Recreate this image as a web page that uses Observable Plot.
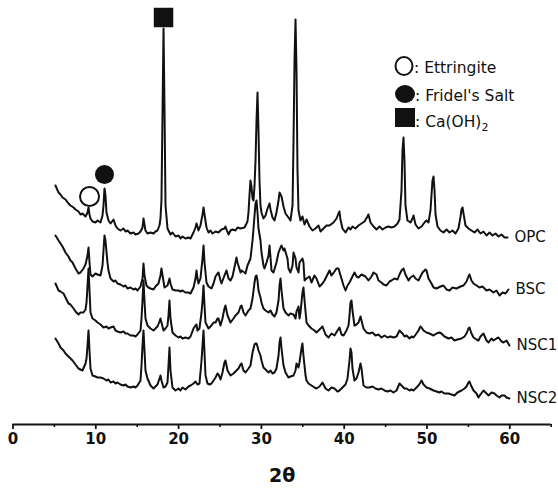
<!DOCTYPE html>
<html>
<head>
<meta charset="utf-8">
<script src="https://cdn.jsdelivr.net/npm/d3@7"></script>
<script src="https://cdn.jsdelivr.net/npm/@observablehq/plot@0.6"></script>
<style>
  html, body { margin: 0; padding: 0; background: #fff; }
  #chart { width: 558px; height: 488px; overflow: hidden; }
</style>
</head>
<body>
<div id="chart"></div>
<script>
// ---- Data: [2θ (deg), intensity (a.u., stacked)] ----
const seriesNames = ["OPC", "BSC", "NSC1", "NSC2"];

const opc = [[5.13,239],[5.50,232],[5.74,230],[5.98,227],[6.34,225],[6.70,221],[6.94,219],[7.31,217],[7.55,215],[7.91,213],[8.15,210],[8.39,211],[8.76,208],[9.00,212],[9.12,217],[9.24,210],[9.36,206],[9.60,203],[9.96,202],[10.21,204],[10.57,202],[10.81,209],[10.93,219],[11.05,236],[11.17,229],[11.29,212],[11.53,204],[11.78,201],[12.14,205],[12.38,199],[12.62,196],[12.98,194],[13.35,196],[13.59,193],[13.83,194],[14.19,191],[14.55,192],[14.79,190],[15.16,191],[15.40,193],[15.64,197],[15.76,206],[15.88,200],[16.00,194],[16.24,191],[16.61,192],[16.97,191],[17.21,193],[17.45,194],[17.69,199],[17.81,206],[17.93,224],[18.06,314],[18.18,396],[18.30,314],[18.42,219],[18.66,196],[19.02,190],[19.26,192],[19.63,188],[19.99,189],[20.23,186],[20.47,188],[20.83,186],[21.20,187],[21.44,186],[21.80,192],[22.04,197],[22.16,201],[22.28,198],[22.40,194],[22.64,199],[22.89,210],[23.01,217],[23.13,210],[23.37,197],[23.61,192],[23.85,194],[24.09,191],[24.46,193],[24.82,192],[25.18,195],[25.54,196],[25.66,198],[25.79,195],[26.03,190],[26.27,194],[26.51,195],[26.87,194],[27.11,197],[27.48,196],[27.96,197],[28.08,199],[28.32,203],[28.44,212],[28.56,229],[28.68,244],[28.80,238],[28.93,226],[29.05,224],[29.17,239],[29.29,264],[29.41,304],[29.53,332],[29.65,294],[29.77,244],[29.89,219],[30.01,212],[30.25,206],[30.50,209],[30.74,216],[30.98,221],[31.10,215],[31.34,207],[31.58,204],[31.82,212],[32.07,224],[32.19,232],[32.43,228],[32.67,218],[32.91,211],[33.27,207],[33.51,204],[33.76,219],[33.88,284],[34.00,364],[34.12,405],[34.24,354],[34.36,254],[34.48,214],[34.72,204],[34.96,208],[35.21,200],[35.45,205],[35.81,198],[36.17,194],[36.53,196],[36.90,199],[37.14,193],[37.50,196],[37.86,199],[38.22,199],[38.71,202],[39.07,206],[39.31,211],[39.43,213],[39.55,205],[39.79,196],[40.16,192],[40.52,197],[40.76,195],[41.00,198],[41.36,196],[41.73,199],[42.09,201],[42.45,203],[42.81,208],[42.93,210],[43.18,202],[43.54,198],[43.90,195],[44.26,198],[44.63,195],[44.99,197],[45.35,198],[45.71,197],[46.07,198],[46.44,201],[46.68,205],[46.92,234],[47.04,274],[47.16,287],[47.28,264],[47.40,219],[47.64,204],[48.01,202],[48.25,206],[48.37,209],[48.61,200],[48.97,196],[49.34,198],[49.70,202],[49.94,204],[50.18,202],[50.42,214],[50.54,229],[50.66,244],[50.79,248],[50.91,234],[51.03,210],[51.27,198],[51.63,194],[51.99,192],[52.36,195],[52.72,192],[53.08,194],[53.44,191],[53.80,196],[54.05,208],[54.17,215],[54.29,217],[54.41,211],[54.65,199],[55.01,196],[55.37,194],[55.74,192],[56.10,195],[56.46,191],[56.82,193],[57.19,189],[57.55,192],[57.91,189],[58.27,191],[58.64,188],[59.00,190],[59.36,187],[59.72,187]];

const bsc = [[5.13,189],[5.50,184],[5.74,181],[5.98,178],[6.34,172],[6.70,168],[6.94,164],[7.19,162],[7.55,156],[7.91,151],[8.15,152],[8.51,156],[8.76,160],[9.00,169],[9.12,177],[9.24,162],[9.36,150],[9.60,148],[9.96,151],[10.21,150],[10.57,149],[10.81,159],[10.93,174],[11.05,189],[11.17,184],[11.41,162],[11.53,154],[11.78,146],[12.14,143],[12.38,144],[12.62,141],[12.98,140],[13.35,138],[13.59,139],[13.83,136],[14.19,137],[14.55,135],[14.79,136],[15.04,134],[15.40,138],[15.64,146],[15.76,161],[15.88,149],[16.12,139],[16.36,137],[16.61,136],[16.97,135],[17.21,138],[17.57,141],[17.81,149],[17.93,156],[18.06,149],[18.30,137],[18.66,139],[18.90,146],[19.02,141],[19.26,135],[19.63,134],[19.99,134],[20.23,133],[20.47,134],[20.83,132],[21.20,132],[21.44,131],[21.80,137],[22.04,146],[22.16,154],[22.28,146],[22.40,141],[22.64,146],[22.89,166],[23.01,179],[23.13,162],[23.37,142],[23.61,138],[23.97,136],[24.22,141],[24.46,148],[24.70,151],[24.82,152],[25.06,144],[25.18,141],[25.54,149],[25.79,154],[26.03,146],[26.27,144],[26.51,148],[26.87,162],[26.99,167],[27.11,162],[27.48,152],[27.60,154],[27.96,152],[28.08,151],[28.32,159],[28.68,166],[28.93,184],[29.05,196],[29.17,209],[29.29,221],[29.41,224],[29.53,212],[29.65,196],[29.89,184],[30.01,172],[30.25,159],[30.37,156],[30.62,162],[30.86,169],[30.98,179],[31.10,167],[31.22,154],[31.46,152],[31.82,162],[32.07,172],[32.31,177],[32.43,179],[32.67,174],[32.79,176],[33.15,166],[33.27,156],[33.51,152],[33.76,159],[33.88,172],[34.12,166],[34.24,157],[34.48,152],[34.60,162],[34.96,166],[35.08,162],[35.21,144],[35.45,146],[35.81,148],[36.05,142],[36.41,149],[36.65,146],[37.02,138],[37.38,141],[37.62,144],[37.86,148],[38.22,154],[38.47,149],[38.83,153],[39.07,156],[39.31,156],[39.67,146],[39.92,139],[40.16,134],[40.40,139],[40.64,142],[41.00,148],[41.24,152],[41.49,148],[41.73,147],[42.09,150],[42.33,149],[42.57,148],[42.93,144],[43.30,148],[43.54,152],[43.90,150],[44.14,144],[44.50,142],[44.75,140],[45.11,139],[45.47,143],[45.71,144],[46.07,146],[46.44,145],[46.68,150],[46.92,154],[47.16,156],[47.40,150],[47.77,144],[48.01,147],[48.37,149],[48.61,146],[48.97,144],[49.21,148],[49.46,152],[49.82,155],[49.94,154],[50.18,146],[50.54,141],[50.79,137],[51.15,136],[51.63,138],[51.99,139],[52.36,135],[52.72,134],[53.08,137],[53.56,136],[54.05,138],[54.41,139],[54.77,143],[55.01,148],[55.13,150],[55.37,144],[55.62,141],[55.98,139],[56.34,137],[56.70,138],[57.19,134],[57.55,135],[58.03,132],[58.39,134],[58.76,129],[59.12,132],[59.48,131],[59.84,135]];

const nsc1 = [[5.13,141],[5.50,134],[5.74,133],[6.10,131],[6.34,127],[6.70,121],[6.94,120],[7.31,116],[7.55,113],[7.91,110],[8.15,112],[8.51,112],[8.76,115],[8.88,122],[9.00,139],[9.12,156],[9.24,134],[9.36,112],[9.60,106],[9.96,104],[10.21,102],[10.57,100],[10.93,97],[11.29,98],[11.53,96],[11.78,97],[12.14,98],[12.38,94],[12.62,93],[12.98,92],[13.35,93],[13.59,91],[13.83,91],[14.19,89],[14.55,89],[14.79,88],[15.04,90],[15.40,94],[15.52,106],[15.64,124],[15.76,144],[15.88,124],[16.00,106],[16.24,99],[16.61,96],[16.97,94],[17.21,96],[17.45,98],[17.69,103],[17.81,106],[17.93,102],[18.18,94],[18.42,96],[18.66,99],[18.78,109],[18.90,124],[19.02,106],[19.26,92],[19.63,89],[19.99,87],[20.23,88],[20.47,86],[20.83,87],[21.20,86],[21.44,88],[21.80,96],[22.04,99],[22.16,100],[22.28,94],[22.52,96],[22.77,112],[22.89,124],[23.01,139],[23.13,119],[23.25,102],[23.61,96],[23.97,99],[24.22,102],[24.46,102],[24.70,106],[24.82,106],[25.06,99],[25.30,106],[25.54,116],[25.66,119],[25.91,109],[26.27,102],[26.63,106],[26.87,109],[27.23,112],[27.48,118],[27.60,119],[27.84,112],[28.08,109],[28.44,114],[28.68,116],[28.93,126],[29.05,134],[29.17,142],[29.29,148],[29.41,149],[29.53,144],[29.65,134],[29.89,127],[30.01,122],[30.25,116],[30.50,114],[30.86,112],[31.10,114],[31.34,110],[31.58,108],[31.82,112],[32.07,124],[32.19,139],[32.31,146],[32.43,134],[32.67,116],[32.91,112],[33.27,109],[33.51,111],[33.88,110],[34.12,106],[34.24,113],[34.48,118],[34.60,106],[34.72,112],[34.96,132],[35.08,137],[35.21,124],[35.45,102],[35.69,99],[36.05,96],[36.41,94],[36.65,92],[37.02,95],[37.38,98],[37.74,90],[38.10,87],[38.47,91],[38.83,89],[39.19,94],[39.43,97],[39.67,90],[39.92,89],[40.28,94],[40.52,99],[40.64,109],[40.76,122],[40.88,124],[41.00,114],[41.24,99],[41.49,100],[41.73,102],[41.97,108],[42.09,104],[42.33,96],[42.69,92],[43.06,91],[43.42,92],[43.78,89],[44.14,90],[44.50,87],[44.87,89],[45.23,87],[45.59,88],[45.95,87],[46.32,88],[46.68,94],[47.04,91],[47.28,88],[47.52,89],[47.89,86],[48.13,88],[48.37,87],[48.73,91],[48.97,94],[49.21,98],[49.34,97],[49.58,94],[49.94,92],[50.30,91],[50.79,89],[51.15,91],[51.51,92],[51.75,91],[52.11,88],[52.60,86],[52.96,87],[53.32,84],[53.68,85],[54.17,86],[54.53,88],[54.77,91],[55.01,96],[55.13,97],[55.37,91],[55.62,87],[55.98,85],[56.22,84],[56.46,88],[56.82,91],[57.19,84],[57.43,82],[57.79,86],[58.03,84],[58.39,86],[58.64,87],[59.00,83],[59.24,82],[59.60,84],[59.96,79]];

const nsc2 = [[5.13,86],[5.50,81],[5.74,77],[6.10,74],[6.34,71],[6.70,68],[6.94,66],[7.19,64],[7.55,60],[7.91,56],[8.15,55],[8.39,54],[8.76,61],[8.88,66],[9.00,79],[9.12,94],[9.24,74],[9.36,56],[9.60,49],[9.96,48],[10.21,47],[10.57,47],[10.93,46],[11.29,44],[11.53,45],[11.78,42],[12.14,43],[12.38,41],[12.62,42],[12.98,40],[13.35,39],[13.59,40],[13.83,38],[14.19,37],[14.55,38],[14.79,37],[15.04,39],[15.40,44],[15.52,59],[15.64,79],[15.76,94],[15.88,74],[16.00,54],[16.24,46],[16.61,39],[16.97,36],[17.21,38],[17.45,40],[17.69,46],[17.81,49],[17.93,44],[18.18,37],[18.42,38],[18.66,42],[18.78,59],[18.90,77],[19.02,54],[19.26,37],[19.63,34],[19.99,36],[20.23,34],[20.47,37],[20.83,35],[21.20,38],[21.44,39],[21.80,41],[22.04,43],[22.28,40],[22.52,41],[22.77,64],[22.89,79],[23.01,94],[23.13,72],[23.25,49],[23.49,41],[23.73,40],[23.97,41],[24.22,44],[24.46,47],[24.70,51],[24.82,50],[25.06,45],[25.30,52],[25.54,62],[25.66,64],[25.91,54],[26.27,49],[26.63,51],[26.87,53],[27.23,56],[27.48,60],[27.60,61],[27.84,54],[28.08,52],[28.44,56],[28.68,59],[28.93,72],[29.05,76],[29.17,80],[29.29,81],[29.41,81],[29.53,78],[29.65,74],[29.89,69],[30.01,64],[30.25,57],[30.50,55],[30.86,52],[31.10,54],[31.34,51],[31.58,52],[31.82,56],[32.07,69],[32.19,82],[32.31,87],[32.43,76],[32.67,59],[32.91,52],[33.27,47],[33.51,48],[33.88,49],[34.12,54],[34.24,61],[34.48,57],[34.60,62],[34.84,76],[34.96,81],[35.08,69],[35.33,49],[35.45,44],[35.69,41],[36.05,39],[36.41,37],[36.65,36],[37.02,38],[37.38,42],[37.74,36],[38.10,34],[38.47,37],[38.83,36],[39.19,33],[39.43,34],[39.79,37],[40.16,40],[40.40,46],[40.64,64],[40.76,76],[40.88,72],[41.00,56],[41.24,44],[41.49,46],[41.73,52],[41.97,61],[42.09,56],[42.33,39],[42.69,37],[43.06,37],[43.42,38],[43.78,36],[44.14,35],[44.50,36],[44.87,34],[45.23,33],[45.59,34],[45.95,32],[46.32,34],[46.68,41],[47.04,38],[47.28,36],[47.52,36],[47.89,34],[48.13,35],[48.37,34],[48.73,37],[48.97,39],[49.21,42],[49.34,44],[49.58,40],[49.94,37],[50.30,36],[50.79,34],[51.15,33],[51.51,32],[51.75,33],[52.11,31],[52.60,31],[52.96,30],[53.32,29],[53.68,32],[54.17,34],[54.53,36],[54.77,38],[55.01,42],[55.13,43],[55.37,38],[55.62,34],[55.98,31],[56.22,27],[56.46,30],[56.82,34],[57.19,31],[57.43,29],[57.79,32],[58.15,31],[58.39,29],[58.76,27],[59.00,29],[59.36,29],[59.60,27],[59.96,26]];

// Phase peaks marked on the OPC pattern: 2θ and apex intensity
const markerPhases = ["Ettringite", "Fridel's Salt", "Ca(OH)2"];
const markerTheta = [9.12, 11.05, 18.18];
const markerApex = [217, 236, 396];

// Axis ticks
const majorTicks = [0, 10, 20, 30, 40, 50, 60];
const minorTicks = [5, 15, 25, 35, 45, 55, 65];
const xLabel = "2θ";

// ---- Build table ----
const seriesData = [opc, bsc, nsc1, nsc2];
const rows = seriesNames.flatMap((name, i) =>
  seriesData[i].map(([t, v]) => ({series: name, theta: t, intensity: v}))
);
const markers = markerPhases.map((p, i) => ({phase: p, theta: markerTheta[i], apex: markerApex[i]}));

const FONT = "DejaVu Sans, Verdana, sans-serif";

const chart = Plot.plot({
  width: 558,
  height: 488,
  marginLeft: 12.5,
  marginRight: 7.3,
  marginTop: 0,
  marginBottom: 64,
  style: {fontFamily: FONT, background: "#fff", color: "#111"},
  x: {domain: [0, 65], label: null},
  y: {domain: [0, 424], axis: null},
  marks: [
    Plot.ruleY([0], {stroke: "#111", strokeWidth: 2.2}),
    Plot.axisX({ticks: minorTicks, tickSize: 3, tickFormat: () => "", stroke: "#111", strokeWidth: 1.6, label: null}),
    Plot.axisX({ticks: majorTicks, tickSize: 5, tickPadding: 4, fontSize: 15, fontWeight: "bold", fill: "#111", stroke: "#111", strokeWidth: 1.8, label: null}),
    Plot.text([xLabel], {frameAnchor: "bottom", dy: 57, fontSize: 19, fontWeight: "bold", fill: "#111"}),
    Plot.line(rows, {x: "theta", y: "intensity", z: "series", stroke: "#111", strokeWidth: 2, strokeLinejoin: "round"}),
    Plot.text(rows, Plot.selectLast({x: "theta", y: "intensity", z: "series", text: "series", dx: 7, textAnchor: "start", fontSize: 15, fill: "#111"})),
    // peak markers
    Plot.dot(markers.filter(d => d.phase === "Ettringite"), {x: "theta", y: "apex", dx: 1, dy: -11, r: 9.5, stroke: "#111", strokeWidth: 2, fill: "#fff"}),
    Plot.dot(markers.filter(d => d.phase === "Fridel's Salt"), {x: "theta", y: "apex", dy: -14, r: 9.5, fill: "#111", stroke: "none"}),
    Plot.dot(markers.filter(d => d.phase === "Ca(OH)2"), {x: "theta", y: "apex", dy: -11, r: 11, symbol: "square", fill: "#111", stroke: "none"})
  ]
});

// ---- Legend (top right) ----
const svg = d3.select(chart);
const lg = svg.append("g").attr("font-family", FONT).attr("fill", "#111").attr("text-anchor", "start");
lg.append("ellipse").attr("cx", 404).attr("cy", 66).attr("rx", 8.5).attr("ry", 9).attr("fill", "#fff").attr("stroke", "#111").attr("stroke-width", 2);
lg.append("text").attr("x", 414).attr("y", 72.5).attr("font-size", 15.5).text(": " + markerPhases[0]);
lg.append("ellipse").attr("cx", 405).attr("cy", 94).attr("rx", 10).attr("ry", 9).attr("fill", "#111");
lg.append("text").attr("x", 415).attr("y", 101).attr("font-size", 15.5).text(": " + markerPhases[1]);
lg.append("rect").attr("x", 395).attr("y", 108).attr("width", 20).attr("height", 19).attr("fill", "#111");
const t3 = lg.append("text").attr("x", 415).attr("y", 127).attr("font-size", 15.5);
t3.append("tspan").text(": Ca(OH)");
t3.append("tspan").attr("font-size", 11).attr("dy", 4).text("2");

document.getElementById("chart").appendChild(chart);
</script>
</body>
</html>
